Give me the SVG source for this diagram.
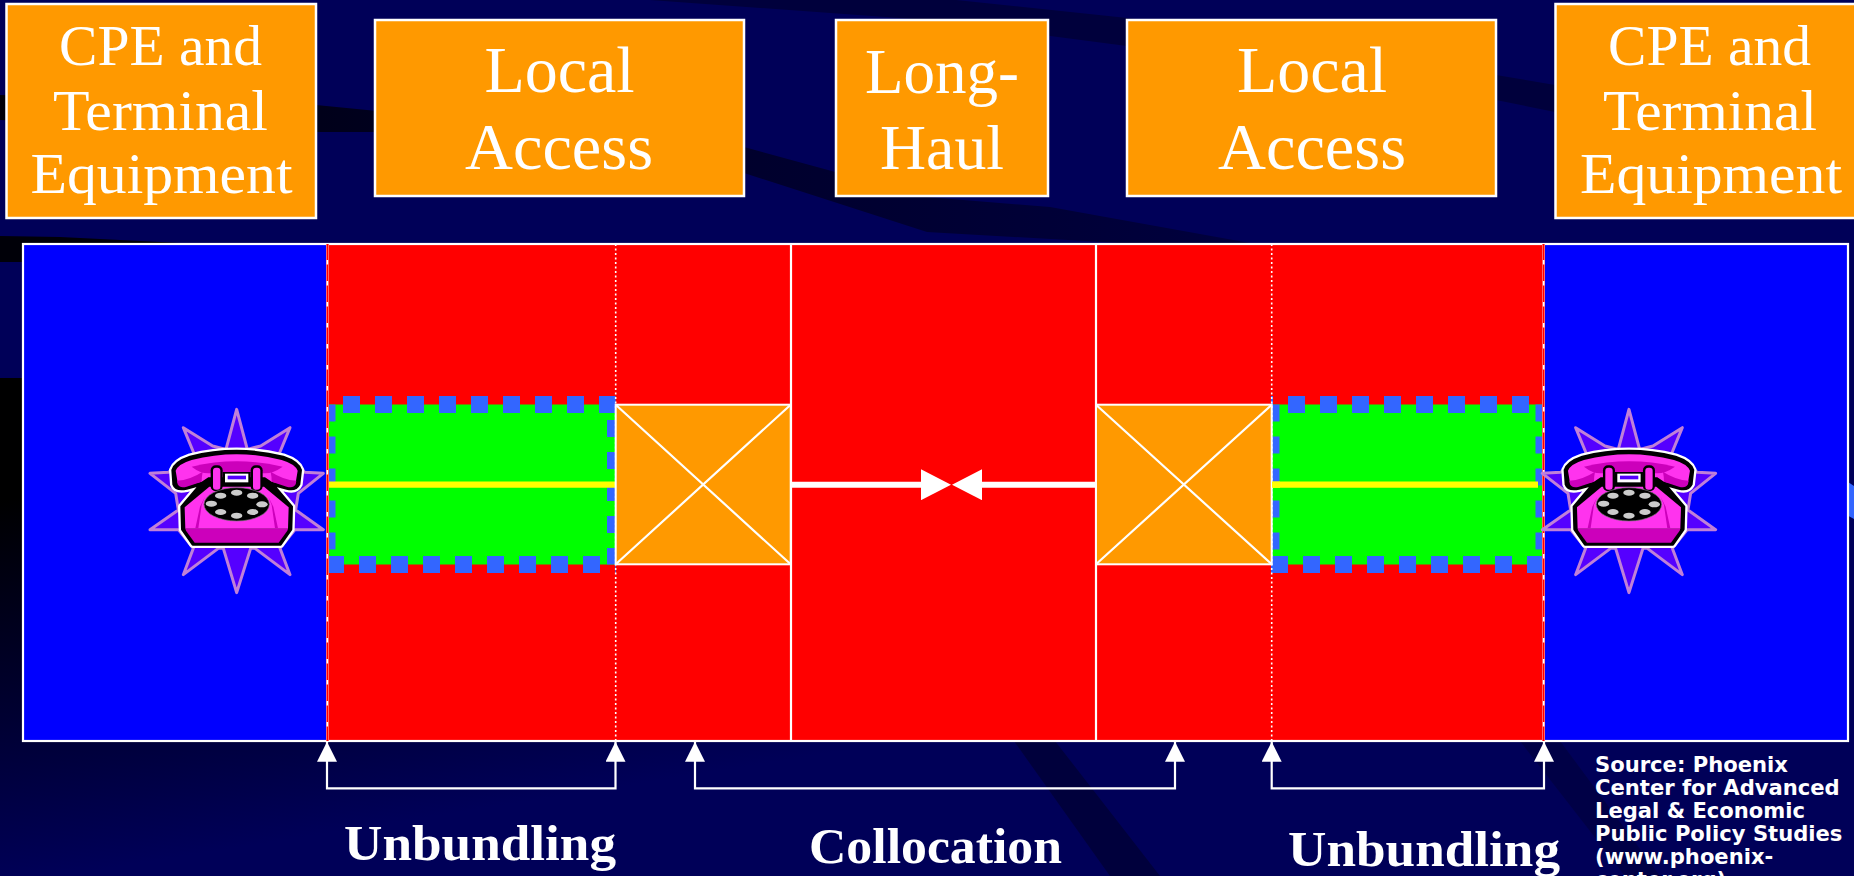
<svg xmlns="http://www.w3.org/2000/svg" xmlns:xlink="http://www.w3.org/1999/xlink" width="1854" height="876" viewBox="0 0 1854 876">
<style>
.box{fill:#ff9900;stroke:#fff;stroke-width:2.5}
.t{font-family:"Liberation Serif",serif;fill:#fff;text-anchor:middle}
.big{font-size:66px}
.cpe{font-size:56px}
.lh{font-size:64px}
.low{font-size:50px;font-weight:bold}
.src{font-family:"DejaVu Sans",sans-serif;font-weight:bold;font-size:21.1px;fill:#fff}
.swoosh{fill:#00003c}
.swooshb{fill:#000046}
.red{fill:#ff0000}
.blue{fill:#0000ff}
.green{fill:#00ff00}
.dash{fill:none;stroke:#3366ff;stroke-width:17;stroke-dasharray:17 15}
.yel{stroke:#ffff00;stroke-width:6.300;fill:none}
.sep{stroke:#fff;stroke-width:2.2;fill:none}
.dot{stroke:#fff;stroke-width:1.6;stroke-dasharray:2 2.5;fill:none}
.wire{stroke:#fff;stroke-width:6;fill:none}
.brk{stroke:#fff;stroke-width:2.2;fill:none}
.diag{stroke:#fff;stroke-width:2.2;fill:none}
.mag{fill:#ff33ee}
.magd{fill:#cc00bb}
</style>
<defs>
<linearGradient id="fade" gradientUnits="userSpaceOnUse" x1="0" y1="500" x2="60" y2="876">
<stop offset="0" stop-color="#000000"/><stop offset="1" stop-color="#000058"/>
</linearGradient>
<linearGradient id="bandA" gradientUnits="userSpaceOnUse" x1="0" y1="0" x2="1250" y2="0">
<stop offset="0" stop-color="#000008"/><stop offset=".4" stop-color="#000024"/><stop offset="1" stop-color="#00003e"/>
</linearGradient>
<clipPath id="clipL"><rect x="327" y="390" width="288.700" height="190"/></clipPath>
<clipPath id="clipR"><rect x="1271" y="390" width="273" height="190"/></clipPath>
<marker id="tipS" markerUnits="userSpaceOnUse" viewBox="0 0 20 20" markerWidth="20" markerHeight="20" refX="20" refY="10" orient="auto-start-reverse"><path d="M0 0L20 10L0 20Z" fill="#fff"/></marker>
<marker id="tipB" markerUnits="userSpaceOnUse" viewBox="0 0 30 31" markerWidth="30" markerHeight="31" refX="4" refY="15.5" orient="auto"><path d="M0 0L30 15.500L0 31Z" fill="#fff"/></marker>
<path id="sil" d="M127 240Q135 215 180 200Q320 165 460 200Q505 215 513 240L508 283Q498 303 470 296L432 286L486 350L484 418L452 464L188 464L156 418L154 350L208 286L170 296Q137 303 130 283Z"/>
<g id="phone" transform="translate(130 390) scale(.33333)">
<polygon points="320,58 352,178 392,168 480,113 445,198 525,247 580,250 505,310 497,360 580,419 495,419 450,475 480,554 375,475 362,475 320,608 280,475 265,475 160,554 190,475 145,419 60,419 145,360 137,310 60,250 115,247 195,198 160,113 248,168 288,178" fill="#5500ff" stroke="#c080d8" stroke-width="9" stroke-linejoin="round"/>
<use xlink:href="#sil" href="#sil" fill="#fff" stroke="#fff" stroke-width="20" stroke-linejoin="round"/>
<use xlink:href="#sil" href="#sil" fill="#000" stroke="#000" stroke-width="6" stroke-linejoin="round"/>
<path class="mag" d="M137 242Q145 222 185 210Q320 175 455 210Q495 222 503 242L497 278Q490 293 470 286L425 275L405 262L235 262L215 275L170 286Q150 293 143 278Z"/>
<path class="magd" d="M141 272Q180 270 218 245Q215 260 215 275L170 290Q150 296 143 283Z"/>
<path class="magd" d="M499 272Q460 270 422 245Q425 260 425 275L470 290Q490 296 497 283Z"/>
<path class="magd" d="M185 230Q320 198 458 230Q430 250 405 250L235 250Q210 250 185 230Z"/>
<path class="mag" d="M238 290L402 290L476 352L474 416L166 416L164 352Z"/>
<path class="magd" d="M166 416L474 416L472 422L446 458L194 458L168 422Z"/>
<path class="magd" d="M196 415L210 350L225 320L215 345L205 415Z"/>
<path class="magd" d="M444 415L430 350L415 320L425 345L435 415Z"/>
<rect x="242" y="226" width="36" height="78" rx="15" fill="#000"/>
<rect x="362" y="226" width="36" height="78" rx="15" fill="#000"/>
<rect x="249" y="233" width="22" height="66" rx="9" class="mag"/>
<rect x="369" y="233" width="22" height="66" rx="9" class="mag"/>
<rect x="278" y="246" width="84" height="36" fill="#000"/>
<rect x="285" y="251" width="70" height="26" fill="#fff"/>
<rect x="293" y="257" width="55" height="11" fill="#5500ff"/>
<ellipse cx="320" cy="343" rx="98" ry="50" fill="#000" stroke="#777" stroke-width="2"/>
<g fill="#cccccc">
<ellipse cx="320" cy="308" rx="17" ry="9"/><ellipse cx="272" cy="317" rx="17" ry="9"/><ellipse cx="368" cy="317" rx="17" ry="9"/><ellipse cx="244" cy="341" rx="17" ry="9"/><ellipse cx="396" cy="343" rx="17" ry="9"/><ellipse cx="272" cy="366" rx="17" ry="9"/><ellipse cx="368" cy="366" rx="17" ry="9"/><ellipse cx="320" cy="377" rx="17" ry="9"/>
</g>
</g>
</defs>

<g id="background">
<rect width="1854" height="876" fill="#000058"/>
<rect x="0" y="378" width="1000" height="498" fill="url(#fade)"/>
<path fill="url(#bandA)" d="M0 95L316 105L744 147L927 197L1050 207L1250 243L1120 243L927 232L744 173L374 132L316 132L0 120Z"/>
<path fill="#000008" d="M0 236L60 237L180 243L40 262L0 262Z"/>
<path class="swoosh" d="M650 0L956 0L1127 18L1300 40L1496 75L1555 85L1560 113L1496 100L1127 46L927 20Z"/>
<path class="swoosh" d="M1014 741L1055 741L1160 876L1110 876Z"/>
<path class="swooshb" d="M1520 741L1560 741L1660 876L1625 876Z"/>
<path d="M1845 480L1854 486L1854 519L1845 514Z" fill="#3366ff"/>
</g>

<g id="chart-ground">
<rect class="red" x="327" y="244" width="1217" height="497"/>
</g>

<g id="access-left">
<rect class="green" x="327" y="404.500" width="288.500" height="160"/>
<g clip-path="url(#clipL)"><path class="dash" d="M327 404.500V564.500H615.500V404.500H327"/></g>
<path class="yel" d="M328 484.700H615"/>
</g>
<g id="access-right">
<rect class="green" x="1271" y="404.500" width="273" height="160"/>
<g clip-path="url(#clipR)"><path class="dash" d="M1271 404.500V564.500H1544V404.500H1271"/></g>
<path class="yel" d="M1272 484.700H1538"/>
</g>

<g id="cpe-panel-left"><rect class="blue" x="23" y="244" width="304.500" height="497"/></g>
<g id="cpe-panel-right"><rect class="blue" x="1543.500" y="244" width="304.500" height="497"/></g>

<g id="chart-lines">
<rect x="23" y="244" width="1825" height="497" fill="none" stroke="#fff" stroke-width="2.2"/>
<line class="sep" x1="791" y1="244" x2="791" y2="741"/>
<line class="sep" x1="1096" y1="244" x2="1096" y2="741"/>
<line x1="327.500" y1="244" x2="327.500" y2="741" stroke="#ffaaaa" stroke-width="3"/>
<line x1="327.500" y1="244" x2="327.500" y2="741" stroke="#ff0000" stroke-width="1.800"/>
<line x1="327.300" y1="260" x2="327.300" y2="741" stroke="#fff" stroke-width="1.500" stroke-dasharray="4.500 16.500"/>
<line x1="1543.500" y1="244" x2="1543.500" y2="741" stroke="#ffaaaa" stroke-width="3"/>
<line x1="1543.500" y1="244" x2="1543.500" y2="741" stroke="#ff0000" stroke-width="1.800"/>
<line x1="1543.700" y1="260" x2="1543.700" y2="741" stroke="#fff" stroke-width="1.500" stroke-dasharray="4.500 16.500"/>
<line class="dot" x1="615.700" y1="244" x2="615.700" y2="741"/>
<line class="dot" x1="1271.700" y1="244" x2="1271.700" y2="741"/>
</g>

<g id="switch-left">
<rect class="box" x="615.700" y="404.700" width="175" height="159.600" style="stroke-width:2"/>
<path class="diag" d="M615.700 404.700L790.700 564.300M790.700 404.700L615.700 564.300"/>
</g>
<g id="switch-right">
<rect class="box" x="1096" y="404.700" width="175.700" height="159.600" style="stroke-width:2"/>
<path class="diag" d="M1096 404.700L1271.700 564.300M1271.700 404.700L1096 564.300"/>
</g>
<path class="yel" d="M1272 484.700H1280"/>

<g id="phone-left"><use xlink:href="#phone" href="#phone"/></g>
<g id="phone-right"><use xlink:href="#phone" href="#phone" transform="translate(1392.300 0)"/></g>

<g id="connectors">
<path class="wire" d="M791 484.700H925" marker-end="url(#tipB)"/>
<path class="wire" d="M1096 484.700H978" marker-end="url(#tipB)"/>
<path class="brk" d="M327 741.700V788.300H615.500V741.700" marker-start="url(#tipS)" marker-end="url(#tipS)"/>
<path class="brk" d="M695 741.700V788.300H1175V741.700" marker-start="url(#tipS)" marker-end="url(#tipS)"/>
<path class="brk" d="M1271.700 741.700V788.300H1544V741.700" marker-start="url(#tipS)" marker-end="url(#tipS)"/>
</g>

<g id="cpe-left">
<rect class="box" x="6.500" y="4" width="309.500" height="214"/>
<text class="t cpe" x="160.500" y="65" textLength="203" lengthAdjust="spacingAndGlyphs">CPE and</text>
<text class="t cpe" x="160.500" y="129.500" textLength="215" lengthAdjust="spacingAndGlyphs">Terminal</text>
<text class="t cpe" x="161.500" y="193" textLength="262" lengthAdjust="spacingAndGlyphs">Equipment</text>
</g>
<g id="local-left">
<rect class="box" x="375" y="20" width="369" height="176"/>
<text class="t big" x="559.500" y="91.500">Local</text>
<text class="t big" x="559" y="168.500" textLength="188" lengthAdjust="spacingAndGlyphs">Access</text>
</g>
<g id="long-haul">
<rect class="box" x="836" y="20" width="212" height="176"/>
<text class="t lh" x="942" y="92.700" textLength="154" lengthAdjust="spacingAndGlyphs">Long-</text>
<text class="t lh" x="942" y="169.300" textLength="124" lengthAdjust="spacingAndGlyphs">Haul</text>
</g>
<g id="local-right">
<rect class="box" x="1127" y="20" width="369" height="176"/>
<text class="t big" x="1312" y="91.500">Local</text>
<text class="t big" x="1312" y="168.500" textLength="188" lengthAdjust="spacingAndGlyphs">Access</text>
</g>
<g id="cpe-right">
<rect class="box" x="1555.500" y="4" width="310" height="214"/>
<text class="t cpe" x="1709.500" y="65" textLength="203" lengthAdjust="spacingAndGlyphs">CPE and</text>
<text class="t cpe" x="1710" y="129.500" textLength="214" lengthAdjust="spacingAndGlyphs">Terminal</text>
<text class="t cpe" x="1711" y="193" textLength="262" lengthAdjust="spacingAndGlyphs">Equipment</text>
</g>

<g id="labels">
<text class="t low" x="480" y="859.500" textLength="272" lengthAdjust="spacingAndGlyphs">Unbundling</text>
<text class="t low" x="935.500" y="862.500" textLength="253" lengthAdjust="spacingAndGlyphs">Collocation</text>
<text class="t low" x="1424" y="866" textLength="272" lengthAdjust="spacingAndGlyphs">Unbundling</text>
<text class="src" x="1595" y="771.700">Source: Phoenix</text>
<text class="src" x="1595" y="794.500">Center for Advanced</text>
<text class="src" x="1595" y="817.700">Legal &amp; Economic</text>
<text class="src" x="1595" y="840.700">Public Policy Studies</text>
<text class="src" x="1595" y="864">(www.phoenix-</text>
<text class="src" x="1595" y="887">center.org)</text>
</g>
</svg>
